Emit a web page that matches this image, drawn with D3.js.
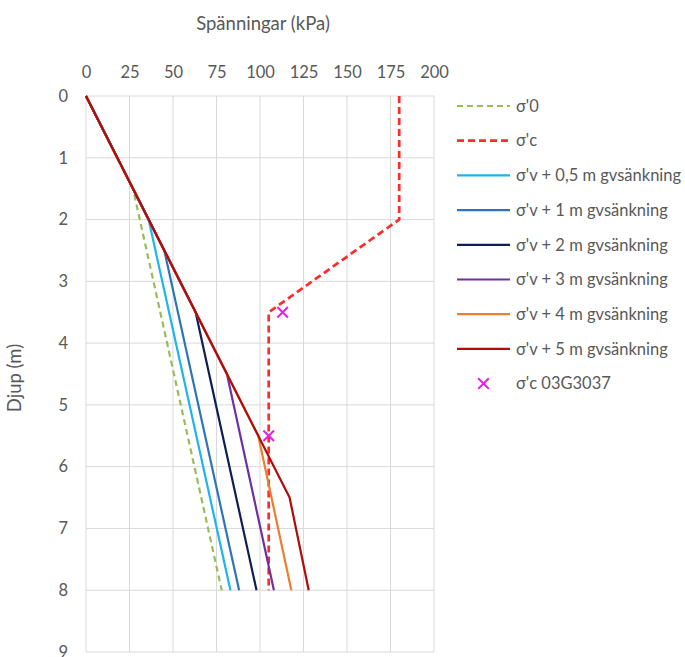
<!DOCTYPE html>
<html><head><meta charset="utf-8">
<script src="https://cdn.jsdelivr.net/npm/d3@7"></script>
<style>body{margin:0;background:#fff;} text{font-family:Lato,"Open Sans",sans-serif;fill:#595959;}</style>
</head><body>
<svg id="c" width="685" height="657"></svg>
<script>
// depth (m) and stress (kPa)
const xTicks = [0,25,50,75,100,125,150,175,200];
const yTicks = [0,1,2,3,4,5,6,7,8,9];
const sigma0_depth = [0,1.5,8];          const sigma0_val = [0,27,78];
const sigmaC_depth = [0,2,3.5,8];        const sigmaC_val = [180,180,105,105];
const gv05_depth = [0,2,8];              const gv05_val = [0,36,83];
const gv1_depth  = [0,2.5,8];            const gv1_val  = [0,45,88];
const gv2_depth  = [0,3.5,8];            const gv2_val  = [0,63,98];
const gv3_depth  = [0,4.5,8];            const gv3_val  = [0,81,108];
const gv4_depth  = [0,5.5,8];            const gv4_val  = [0,99,118];
const gv5_depth  = [0,6.5,8];            const gv5_val  = [0,117,128];
const pts_depth = [3.5,5.5];             const pts_val = [113,105];
const names = ["σ'0","σ'c","σ'v + 0,5 m gvsänkning","σ'v + 1 m gvsänkning","σ'v + 2 m gvsänkning","σ'v + 3 m gvsänkning","σ'v + 4 m gvsänkning","σ'v + 5 m gvsänkning","σ'c 03G3037"];
const colors = ["#9BBB59","#FF2A2A","#1FB4EC","#2E75B6","#0F1F55","#7030A0","#ED7D31","#B00A0A","#E61EE6"];

const series = [
  {d:sigma0_depth,v:sigma0_val,dash:"6,4",w:2.2},
  {d:sigmaC_depth,v:sigmaC_val,dash:"7,4",w:2.7},
  {d:gv05_depth,v:gv05_val},
  {d:gv1_depth,v:gv1_val},
  {d:gv2_depth,v:gv2_val},
  {d:gv3_depth,v:gv3_val},
  {d:gv4_depth,v:gv4_val},
  {d:gv5_depth,v:gv5_val}
];

const svg = d3.select("#c");
const x = d3.scaleLinear().domain([0,200]).range([86,434]);
const y = d3.scaleLinear().domain([0,9]).range([96,652]);

// grid
const g = svg.append("g");
g.selectAll(".vg").data(xTicks).join("line")
  .attr("x1",d=>x(d)).attr("x2",d=>x(d)).attr("y1",y(0)).attr("y2",y(9))
  .attr("stroke","#d9d9d9").attr("stroke-width",1);
g.selectAll(".hg").data(yTicks).join("line")
  .attr("x1",x(0)).attr("x2",x(200)).attr("y1",d=>y(d)).attr("y2",d=>y(d))
  .attr("stroke","#d9d9d9").attr("stroke-width",1);

// axes
const xAxis = d3.axisTop(x).tickValues(xTicks).tickSize(0).tickPadding(0);
const ax = svg.append("g").attr("transform",`translate(0,${y(0)-18})`).call(xAxis);
ax.select(".domain").remove();
ax.selectAll("text").style("font-size","16.5px").attr("fill","#595959").attr("font-family","Lato");

const yAxis = d3.axisLeft(y).tickValues(yTicks).tickSize(0).tickPadding(0);
const ay = svg.append("g").attr("transform",`translate(${x(0)-18},0)`).call(yAxis);
ay.select(".domain").remove();
ay.selectAll("text").style("font-size","16.5px").attr("fill","#595959").attr("font-family","Lato");

svg.append("text").attr("x",263).attr("y",30).attr("text-anchor","middle")
  .style("font-size","18.5px").text("Spänningar (kPa)");
svg.append("text").attr("transform","translate(21,378) rotate(-90)").attr("text-anchor","middle")
  .style("font-size","18.5px").text("Djup (m)");

// lines
const line = d3.line().x(p=>x(p[1])).y(p=>y(p[0]));
series.forEach((s,i)=>{
  svg.append("path").datum(s.d.map((d,j)=>[d,s.v[j]]))
    .attr("d",line).attr("fill","none").attr("stroke",colors[i])
    .attr("stroke-width",s.w||2.2).attr("stroke-dasharray",s.dash||null)
    .attr("stroke-linejoin","round");
});

// markers
const cross = d3.symbol().type(d3.symbolX).size(75);
svg.selectAll(".mk").data(pts_depth.map((d,i)=>[d,pts_val[i]])).join("path")
  .attr("transform",p=>`translate(${x(p[1])},${y(p[0])})`)
  .attr("d",cross).attr("fill","none").attr("stroke",colors[8]).attr("stroke-width",2);

// legend
const lg = svg.append("g");
names.forEach((n,i)=>{
  const yy = 106 + i*34.7;
  if(i<8){
    lg.append("line").attr("x1",457).attr("x2",510).attr("y1",yy).attr("y2",yy)
      .attr("stroke",colors[i]).attr("stroke-width",series[i].w||2.2).attr("stroke-dasharray",series[i].dash||null);
  } else {
    lg.append("path").attr("transform",`translate(483.5,${yy})`).attr("d",cross)
      .attr("fill","none").attr("stroke",colors[8]).attr("stroke-width",2);
  }
  lg.append("text").attr("x",516).attr("y",yy).attr("dy","0.35em")
    .style("font-size","16.5px").text(n);
});
</script>
</body></html>
